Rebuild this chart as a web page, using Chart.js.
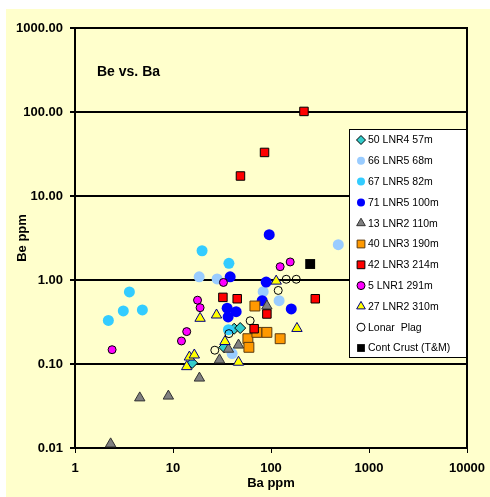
<!DOCTYPE html>
<html>
<head>
<meta charset="utf-8">
<script src="https://cdn.jsdelivr.net/npm/chart.js@4/dist/chart.umd.min.js"></script>
<style>
  html, body { margin: 0; padding: 0; background: #ffffff; }
  #c { display: block; }
</style>
</head>
<body>
<canvas id="c" width="490" height="497"></canvas>
<script>
// ---- Data (Ba ppm, Be ppm) ----
const seriesNames = ['50 LNR4 57m', '66 LNR5 68m', '67 LNR5 82m', '71 LNR5 100m', '13 LNR2 110m',
  '40 LNR3 190m', '42 LNR3 214m', '5 LNR1 291m', '27 LNR2 310m', 'Lonar  Plag', 'Cont Crust (T&M)'];

const s50Ba = [15.7, 33.3, 42.1, 48.5];
const s50Be = [0.103, 0.158, 0.263, 0.268];

const s66Ba = [18.5, 28.2, 83.2, 121, 486, 40.1];
const s66Be = [1.09, 1.03, 0.726, 0.567, 2.63, 0.133];

const s67Ba = [19.8, 37.2, 3.59, 3.11, 4.87, 2.19, 36.8];
const s67Be = [2.23, 1.58, 0.72, 0.428, 0.44, 0.33, 0.256];

const s71Ba = [95.9, 38.3, 89.3, 81.3, 35.7, 44.1, 36.5, 161];
const s71Be = [3.46, 1.09, 0.946, 0.567, 0.462, 0.42, 0.363, 0.452];

const s13Ba = [2.31, 4.58, 8.97, 18.6, 29.8, 36.8, 46.6, 90.8];
const s13Be = [0.0112, 0.0395, 0.0415, 0.068, 0.112, 0.15, 0.168, 0.49];

const s40Ba = [68.5, 58.1, 71.8, 90.8, 124, 59.5];
const s40Be = [0.49, 0.2, 0.238, 0.238, 0.2, 0.158];

const s42Ba = [217, 85.9, 48.8, 32.3, 45.2, 90.8, 67.3, 283];
const s42Be = [101.6, 33.0, 17.3, 0.621, 0.598, 0.394, 0.263, 0.598];

const s5Ba = [2.39, 12.2, 13.8, 17.8, 18.9, 32.7, 124, 157];
const s5Be = [0.148, 0.188, 0.243, 0.575, 0.468, 0.935, 1.44, 1.64];

const s27Ba = [13.8, 14.7, 16.5, 18.9, 27.8, 33.9, 46.6, 113, 184];
const s27Be = [0.093, 0.121, 0.128, 0.35, 0.383, 0.185, 0.105, 0.97, 0.265];

const lonarBa = [26.7, 37.2, 61.3, 118.5, 143, 181];
const lonarBe = [0.146, 0.23, 0.327, 0.751, 1.02, 1.02];

const crustBa = [251];
const crustBe = [1.55];

const xTickValues = [1, 10, 100, 1000, 10000];
const yTickValues = [0.01, 0.1, 1, 10, 100, 1000];

// ---- Styles ----
const styles = [
  { style: 'rectRot', r: 5.5, bg: '#33CCCC', bc: '#000000', bw: 1, lr: 4.5 },
  { style: 'circle', r: 5.5, bg: '#99CCFF', bc: '#99CCFF', bw: 0, lr: 4 },
  { style: 'circle', r: 5.5, bg: '#33CCFF', bc: '#33CCFF', bw: 0, lr: 4 },
  { style: 'circle', r: 5.5, bg: '#0000FF', bc: '#0000FF', bw: 0, lr: 4 },
  { style: 'triangle', r: 6, bg: '#808080', bc: '#333333', bw: 1, lr: 5 },
  { style: 'rect', r: 7, bg: '#FF9900', bc: '#5a3a10', bw: 1, lr: 5.5 },
  { style: 'rect', r: 6, bg: '#FF0000', bc: '#000000', bw: 1, lr: 5.5 },
  { style: 'circle', r: 4, bg: '#FF00FF', bc: '#000000', bw: 1, lr: 4 },
  { style: 'triangle', r: 6, bg: '#FFFF00', bc: '#000080', bw: 1, lr: 5 },
  { style: 'circle', r: 4, bg: 'rgba(255,255,255,0)', bc: '#000000', bw: 1, lr: 4 },
  { style: 'rect', r: 7, bg: '#000000', bc: '#000000', bw: 0, lr: 5.5 }
];

const xs = [s50Ba, s66Ba, s67Ba, s71Ba, s13Ba, s40Ba, s42Ba, s5Ba, s27Ba, lonarBa, crustBa];
const ys = [s50Be, s66Be, s67Be, s71Be, s13Be, s40Be, s42Be, s5Be, s27Be, lonarBe, crustBe];

const datasets = seriesNames.map((name, i) => ({
  label: name,
  data: xs[i].map((x, j) => ({ x: x, y: ys[i][j] })),
  pointStyle: styles[i].style,
  pointRadius: styles[i].r,
  pointHoverRadius: styles[i].r,
  backgroundColor: styles[i].bg,
  borderColor: styles[i].bc,
  pointBorderWidth: styles[i].bw,
  borderWidth: styles[i].bw,
  showLine: false,
  clip: false,
  order: seriesNames.length - i
}));

function drawMarker(ctx, st, x, y, r) {
  ctx.save();
  ctx.fillStyle = st.bg;
  ctx.strokeStyle = st.bc;
  ctx.lineWidth = st.bw;
  ctx.beginPath();
  if (st.style === 'circle') {
    ctx.arc(x, y, r, 0, Math.PI * 2);
  } else if (st.style === 'rect') {
    const s = r * Math.SQRT1_2;
    ctx.rect(x - s, y - s, 2 * s, 2 * s);
  } else if (st.style === 'rectRot') {
    ctx.moveTo(x, y - r); ctx.lineTo(x + r, y); ctx.lineTo(x, y + r); ctx.lineTo(x - r, y); ctx.closePath();
  } else if (st.style === 'triangle') {
    let a = 0;
    ctx.moveTo(x + Math.sin(a) * r, y - Math.cos(a) * r);
    a += Math.PI * 2 / 3;
    ctx.lineTo(x + Math.sin(a) * r, y - Math.cos(a) * r);
    a += Math.PI * 2 / 3;
    ctx.lineTo(x + Math.sin(a) * r, y - Math.cos(a) * r);
    ctx.closePath();
  }
  ctx.fill();
  if (st.bw > 0) ctx.stroke();
  ctx.restore();
}

const bgPlugin = {
  id: 'bgPlugin',
  beforeDraw(chart) {
    const ctx = chart.ctx;
    ctx.save();
    ctx.fillStyle = '#ffffff';
    ctx.fillRect(0, 0, chart.width, chart.height);
    ctx.fillStyle = '#FFFFCC';
    ctx.fillRect(6, 9, chart.width - 6, chart.height - 9);
    ctx.restore();
  },
  beforeDatasetsDraw(chart) {
    const ctx = chart.ctx;
    const a = chart.chartArea;
    ctx.save();
    ctx.strokeStyle = '#000000';
    ctx.lineWidth = 2;
    ctx.strokeRect(a.left, a.top, a.right - a.left, a.bottom - a.top);
    ctx.fillStyle = '#000000';
    ctx.font = 'bold 14px "Liberation Sans", Arial, sans-serif';
    ctx.textBaseline = 'middle';
    ctx.textAlign = 'left';
    ctx.fillText('Be vs. Ba', a.left + 22, 72);
    ctx.restore();
  },
  afterDatasetsDraw(chart) {
    const ctx = chart.ctx;
    const a = chart.chartArea;
    const boxL = 349, boxT = 129, boxR = a.right, boxB = 358;
    ctx.save();
    ctx.fillStyle = '#ffffff';
    ctx.fillRect(boxL, boxT, boxR - boxL, boxB - boxT);
    ctx.strokeStyle = '#000000';
    ctx.lineWidth = 1;
    ctx.strokeRect(boxL + 0.5, boxT + 0.5, boxR - boxL - 1, boxB - boxT - 1);
    ctx.font = '10.5px "Liberation Sans", Arial, sans-serif';
    ctx.textBaseline = 'middle';
    ctx.textAlign = 'left';
    chart.data.datasets.forEach((ds, i) => {
      const y = 140 + i * 20.8;
      drawMarker(ctx, styles[i], 361, y, styles[i].lr);
      ctx.fillStyle = '#000000';
      ctx.fillText(ds.label, 368, y + 0.5);
    });
    ctx.restore();
  }
};

const tickFont = { family: '"Liberation Sans", Arial, sans-serif', size: 13, weight: 'bold' };

new Chart(document.getElementById('c'), {
  type: 'scatter',
  data: { datasets: datasets },
  options: {
    responsive: false,
    animation: false,
    devicePixelRatio: 1,
    layout: { padding: { left: 0, top: 28, right: 23, bottom: 0 } },
    plugins: {
      legend: { display: false },
      tooltip: { enabled: false },
      title: { display: false }
    },
    scales: {
      x: {
        type: 'logarithmic',
        min: 1, max: 10000,
        afterBuildTicks: (s) => { s.ticks = xTickValues.map(v => ({ value: v })); },
        afterFit: (s) => { s.height = 49; s.paddingLeft = 0; s.paddingRight = 0; },
        ticks: {
          color: '#000000', font: tickFont, padding: 8, maxRotation: 0, autoSkip: false,
          callback: (v) => String(v)
        },
        grid: { drawOnChartArea: false, drawTicks: true, tickLength: 5, color: '#000000', lineWidth: 1 },
        border: { display: true, color: '#000000', width: 2 },
        title: { display: true, text: 'Ba ppm', color: '#000000', font: tickFont, padding: { top: 0, bottom: 6 } }
      },
      y: {
        type: 'logarithmic',
        min: 0.01, max: 1000,
        afterBuildTicks: (s) => { s.ticks = yTickValues.map(v => ({ value: v })); },
        afterFit: (s) => { s.width = 75; s.paddingTop = 0; s.paddingBottom = 0; },
        ticks: {
          color: '#000000', font: tickFont, padding: 7, autoSkip: false,
          callback: (v) => Number(v).toFixed(2)
        },
        grid: { drawOnChartArea: true, drawTicks: true, tickLength: 5, color: '#000000', lineWidth: 2 },
        border: { display: true, color: '#000000', width: 2 },
        title: { display: true, text: 'Be ppm', color: '#000000', font: tickFont, padding: { top: 15, bottom: 0 } }
      }
    }
  },
  plugins: [bgPlugin]
});
</script>
</body>
</html>
